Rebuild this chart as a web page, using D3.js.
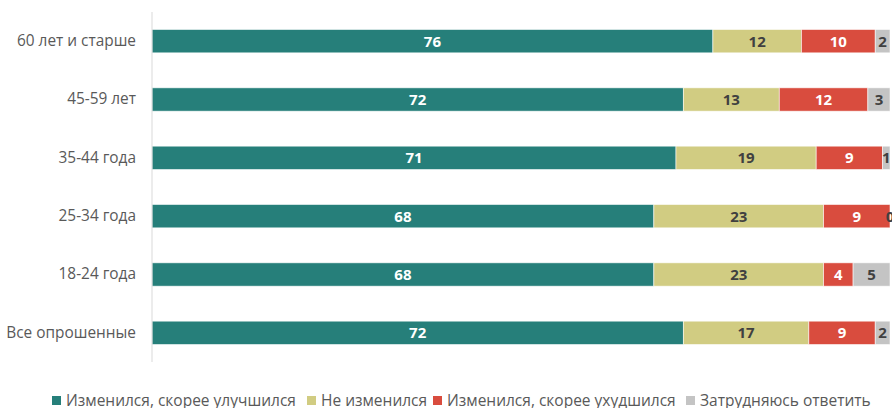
<!DOCTYPE html>
<html>
<head>
<meta charset="utf-8">
<script src="https://cdn.jsdelivr.net/npm/d3@7"></script>
<style>
  body { margin: 0; background: #fff; }
  text { font-family: "Open Sans", sans-serif; }
</style>
</head>
<body>
<svg id="chart"></svg>
<script>
var groups = ['60 лет и старше', '45-59 лет', '35-44 года', '25-34 года', '18-24 года', 'Все опрошенные']
var seriesNames = ['Изменился, скорее улучшился', 'Не изменился', 'Изменился, скорее ухудшился', 'Затрудняюсь ответить']
var improved = [76, 72, 71, 68, 68, 72]
var unchanged = [12, 13, 19, 23, 23, 17]
var worse = [10, 12, 9, 9, 4, 9]
var unsure = [2, 3, 1, 0, 5, 2]
var colors = ['#267F7A', '#D1CC82', '#D94C3E', '#C4C4C4']
var labelColors = ['#fff', '#404040', '#fff', '#404040']

var width = 892, height = 408
var margin = {top: 12, right: 2, bottom: 46, left: 152}

var svg = d3.select('#chart')
	.attr('width', width)
	.attr('height', height)

// build rows for the stack
var rows = groups.map((g, i) => ({
	group: g, s0: improved[i], s1: unchanged[i], s2: worse[i], s3: unsure[i]
}))
var keys = ['s0', 's1', 's2', 's3']
var stack = d3.stack().keys(keys)(rows)

var x = d3.scaleLinear()
	.domain([0, 100])
	.range([margin.left, 890])

var y = d3.scaleBand()
	.domain(groups)
	.range([margin.top, height - margin.bottom])
	.paddingInner(0.6)
	.paddingOuter(0.3)

// bars
var layer = svg.append('g').selectAll('g')
	.data(stack)
	.enter()
	.append('g')
		.attr('fill', (d, i) => colors[i])

layer.selectAll('rect')
	.data(d => d)
	.enter()
	.append('rect')
		.attr('x', d => x(d[0]))
		.attr('y', d => y(d.data.group))
		.attr('width', d => x(d[1]) - x(d[0]))
		.attr('height', y.bandwidth())
		.attr('stroke', '#fff')
		.attr('stroke-opacity', 0.7)
		.attr('stroke-width', 0.8)

// value labels
stack.forEach((s, i) => {
	svg.append('g').selectAll('text')
		.data(s)
		.enter()
		.append('text')
			.attr('x', d => (x(d[0]) + x(d[1])) / 2)
			.attr('y', d => y(d.data.group) + y.bandwidth() / 2)
			.attr('dy', '0.36em')
			.attr('text-anchor', 'middle')
			.attr('fill', labelColors[i])
			.style('font-size', '15px')
			.style('font-weight', 'bold')
			.text(d => d[1] - d[0])
})

// category axis
var yAxis = svg.append('g')
	.attr('transform', 'translate(' + margin.left + ',0)')
	.call(d3.axisLeft(y).tickSize(0).tickPadding(16))
yAxis.select('.domain')
	.attr('d', 'M0,' + margin.top + 'V' + (height - margin.bottom))
	.attr('stroke', '#d9d9d9')
yAxis.selectAll('text')
	.style('font-size', '15.4px')
	.attr('fill', '#595959')

// legend
var legendX = [52, 307, 433, 686]
var legend = svg.append('g').selectAll('g')
	.data(seriesNames)
	.enter()
	.append('g')
		.attr('transform', (d, i) => 'translate(' + legendX[i] + ',396)')
legend.append('rect')
	.attr('width', 9)
	.attr('height', 9)
	.attr('fill', (d, i) => colors[i])
legend.append('text')
	.attr('x', 14)
	.attr('y', 4.5)
	.attr('dy', '0.36em')
	.attr('fill', '#595959')
	.style('font-size', '15.5px')
	.text(d => d)
</script>
</body>
</html>
